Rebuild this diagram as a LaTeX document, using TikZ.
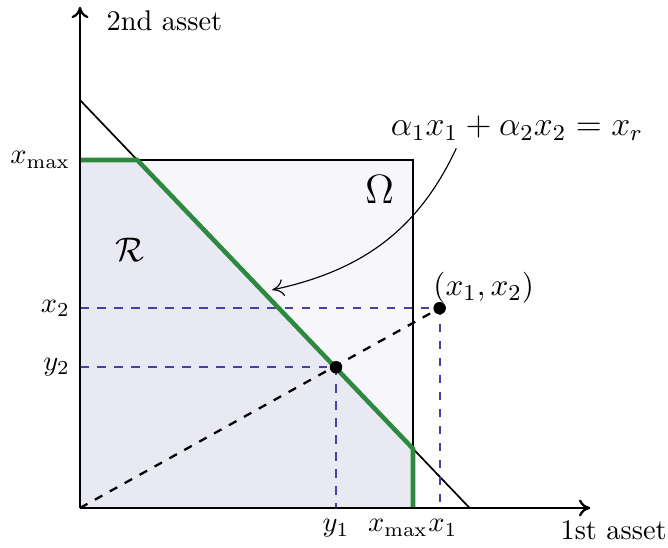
\documentclass[tikz,border=0pt]{standalone}
\usepackage{amsmath}
\usetikzlibrary{arrows.meta}
\definecolor{feasgreen}{RGB}{46,137,64}
\definecolor{projblue}{RGB}{74,62,160}
\definecolor{regionfill}{RGB}{233,233,243}
\definecolor{omegafill}{RGB}{247,247,251}
\begin{document}
\begin{tikzpicture}[>={To[length=4pt,width=6pt]}, x=1.03cm, y=1.03cm]
  \useasboundingbox (-0.961,-0.48) rectangle (7.063,6.102);

  % --- Puntos ---
  \coordinate (O)   at (0,0);
  \coordinate (Xe)  at (6.13,0);
  \coordinate (Ye)  at (0,6.02);
  \coordinate (Omx) at (4,0);
  \coordinate (Omy) at (0,4.18);
  \coordinate (Omc) at (4,4.18);
  \coordinate (La)  at (0,4.9);
  \coordinate (Lb)  at (4.68,0);
  \coordinate (G1)  at (0.688,4.18);
  \coordinate (G2)  at (4,0.712);
  \coordinate (P)   at (4.32,2.40);
  \coordinate (Q)   at (3.075,1.69);

  % --- Conjunto Omega y region R ---
  \fill[omegafill] (O) rectangle (Omc);
  \fill[regionfill] (O) -- (Omy) -- (G1) -- (G2) -- (Omx) -- cycle;
  \draw[semithick] (Omy) -- (Omc) -- (Omx);

  % --- Recta presupuestaria ---
  \draw[semithick] (La) -- (Lb);

  % --- Proyecciones ---
  \draw[projblue, thick, dashed] (P -| O) -- (P) -- (P |- O);
  \draw[projblue, thick, dashed] (Q -| O) -- (Q) -- (Q |- O);
  \draw[thick, dashed] (O) -- (P);

  % --- Frontera de R ---
  \draw[feasgreen, line width=1.6pt] (Omy) -- (G1) -- (G2) -- (Omx);

  % --- Ejes ---
  \draw[thick, ->] (O) -- (Xe);
  \draw[thick, ->] (O) -- (Ye);
  \node[anchor=west] (ylab) at (0.2,5.85) {2nd asset};
  \node (xlab) at (6.41,-0.27) {1st asset};

  % --- Marcas ---
  \node[left] (xmaxy) at (Omy) {$x_{\max}$};
  \node[left] (x2) at (P -| O) {$x_2$};
  \node[left] (y2) at (Q -| O) {$y_2$};
  \node[anchor=north] (y1) at (3.075,-0.02) {$y_1$};
  \node[anchor=north] (xmaxx) at (3.82,-0.02) {$x_{\max}$};
  \node[anchor=north] (x1) at (4.36,-0.02) {$x_1$};

  % --- Puntos marcados ---
  \fill (P) circle[radius=2.2pt];
  \fill (Q) circle[radius=2.2pt];
  \node[font=\fontsize{10.8}{13}\selectfont] (Plab) at (4.85,2.64) {$(x_1,x_2)$};

  % --- Etiquetas ---
  \node[font=\Large] (Om) at (3.6,3.82) {$\Omega$};
  \node[font=\large] (R) at (0.6,3.1) {$\mathcal{R}$};
  \node[font=\large] (eq) at (5.25,4.56) {$\alpha_1x_1+\alpha_2x_2=x_r$};
  \coordinate (eqfoot) at (4.52,4.32);
  \coordinate (tip) at (2.31,2.62);
  \draw[->] (eqfoot) to[out=-115, in=12] (tip);

\end{tikzpicture}
\end{document}
